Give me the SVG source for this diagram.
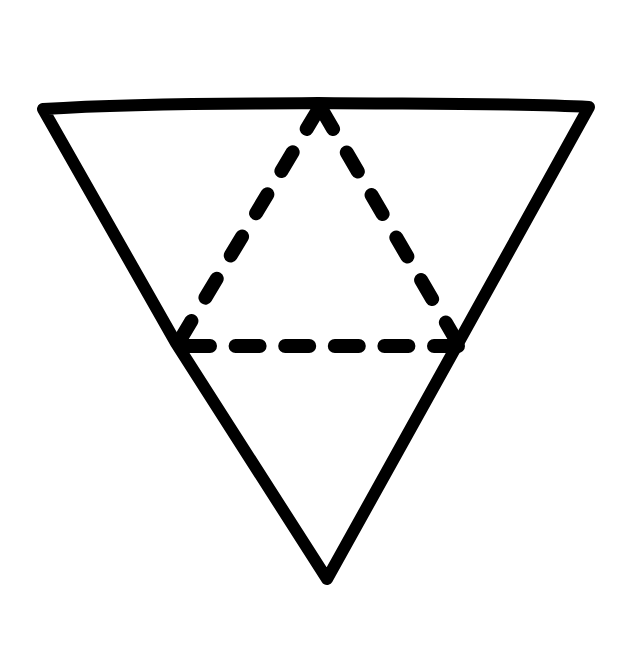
<svg xmlns="http://www.w3.org/2000/svg" width="640" height="663" viewBox="0 0 640 663">
<style>
.solid{fill:none;stroke:#000;stroke-width:12;stroke-linecap:round;stroke-linejoin:round}
.dash{fill:none;stroke:#000;stroke-width:14;stroke-linecap:round}
.diag{stroke-dasharray:22 27.2}
.horiz{stroke-dasharray:24 25.6}
</style>
<rect width="640" height="663" fill="#fff"/>
<g id="outer-triangle">
<path class="solid" d="M43,109 C150,102 250,104 318,103 C420,104 520,103 589,107 L456,347 L327,579 L176,343 Z"/>
</g>
<g id="connectors">
<path class="dash diag" d="M318,110 L180,340"/>
<path class="dash diag" d="M322,110 L456,340"/>
<path class="dash horiz" d="M186,346 L458,346"/>
</g>
</svg>
